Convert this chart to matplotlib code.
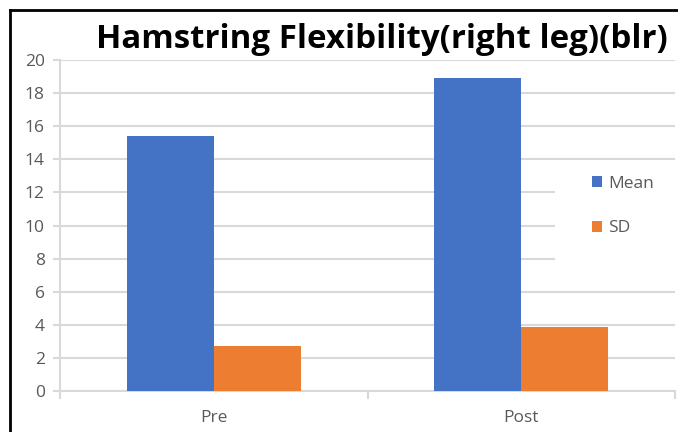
import matplotlib
matplotlib.use("Agg")
import matplotlib.pyplot as plt
import numpy as np
from matplotlib.lines import Line2D
from matplotlib.patches import Rectangle

categories = ["Pre", "Post"]
mean_values = [15.4, 18.9]
sd_values = [2.72, 3.87]
series_names = ["Mean", "SD"]
y_ticks = [0, 2, 4, 6, 8, 10, 12, 14, 16, 18, 20]

blue = "#4472C4"
orange = "#ED7D31"
grid_c = "#D9D9D9"
text_c = "#595959"

plt.rcParams["font.family"] = ["Open Sans", "DejaVu Sans"]

W, H = 678, 432
fig = plt.figure(figsize=(W / 100, H / 100), dpi=100)
ax = fig.add_axes([60 / W, 1 - 391 / H, (675 - 60) / W, (391 - 60) / H])

x = np.arange(len(categories))
bw = 0.283
ax.bar(x - bw / 2, mean_values, bw, color=blue, label=series_names[0], zorder=3)
ax.bar(x + bw / 2, sd_values, bw, color=orange, label=series_names[1], zorder=3)

ax.set_xlim(-0.5, len(categories) - 0.5)
ax.set_ylim(0, 20)
ax.set_yticks(y_ticks)
ax.set_yticklabels([str(v) for v in y_ticks])
ax.yaxis.grid(True, color=grid_c, linewidth=1.5, zorder=0)
ax.set_axisbelow(True)

# category boundaries carry the x ticks
ax.set_xticks(np.arange(-0.5, len(categories), 1.0))
ax.set_xticklabels([])
ax.set_xticks(x, minor=True)
ax.set_xticklabels(categories, minor=True)
ax.tick_params(axis="x", which="minor", length=0, pad=14, labelsize=12.5, labelcolor=text_c)
ax.tick_params(axis="x", which="major", length=6, color=grid_c, width=1.5, direction="out")
ax.tick_params(axis="y", length=5, color=grid_c, width=1.5, labelsize=12.5, labelcolor=text_c, pad=6)

for s in ["top", "right"]:
    ax.spines[s].set_visible(False)
ax.spines["left"].set_color(grid_c)
ax.spines["bottom"].set_color(grid_c)
ax.spines["left"].set_linewidth(1.5)
ax.spines["bottom"].set_linewidth(1.5)

# legend area clears the gridlines behind it
ax.add_patch(Rectangle((555 / W, 1 - 272 / H), (677 - 555) / W, (272 - 167) / H,
                       transform=fig.transFigure, facecolor="white", edgecolor="none",
                       zorder=2))
leg = ax.legend(loc="center left", bbox_to_anchor=(576 / W, 1 - 206 / H),
                bbox_transform=fig.transFigure, frameon=False, fontsize=12.5,
                handlelength=0.6, handleheight=0.6, handletextpad=0.35,
                labelspacing=1.65, labelcolor=text_c)
leg.set_zorder(5)

fig.text(382 / W, 1 - 40 / H, "Hamstring Flexibility(right leg)(blr)",
         ha="center", va="center", fontsize=23.8, fontweight="bold", color="black",
         family=["Open Sans", "DejaVu Sans"])

# outer frame on the top and left
fig.add_artist(Line2D([10 / W, 1], [1 - 10 / H, 1 - 10 / H], transform=fig.transFigure,
                      color="black", linewidth=2))
fig.add_artist(Line2D([10 / W, 10 / W], [0, 1 - 10 / H], transform=fig.transFigure,
                      color="black", linewidth=2))

fig.savefig("out.png", dpi=100, facecolor="white")
